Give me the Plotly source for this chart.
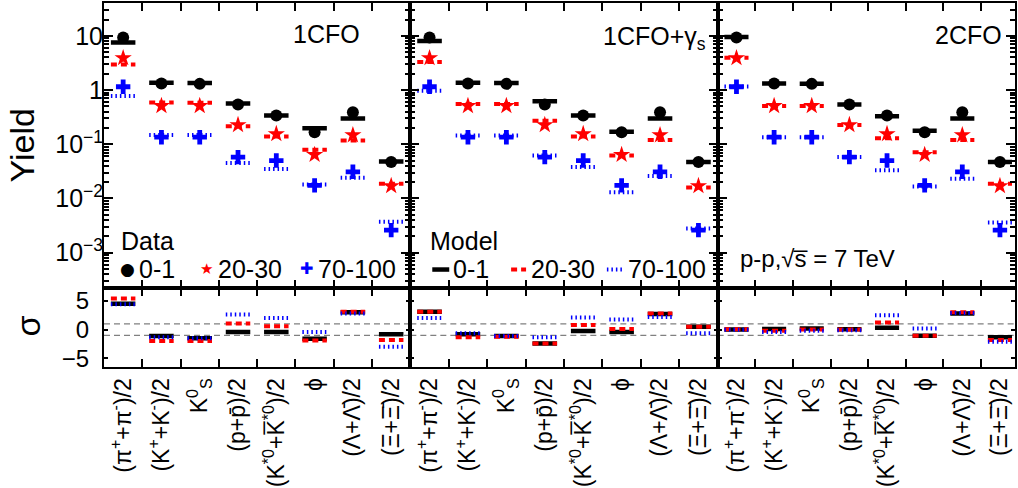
import plotly.graph_objects as go

# ---------------- data ----------------
categories = [
    "(π<sup>+</sup>+π<sup>-</sup>)/2",
    "(K<sup>+</sup>+K<sup>-</sup>)/2",
    "K<sup>0</sup><sub>S</sub>",
    "(p+p̄)/2",
    "(K<sup>*0</sup>+K̅<sup>*0</sup>)/2",
    "ϕ",
    "(Λ+Λ̄)/2",
    "(Ξ+Ξ̄)/2",
]
classes = ["0-1", "20-30", "70-100"]

yield_tickvals = [0.001, 0.01, 0.1, 1, 10]
yield_ticktext = ["10<sup>−3</sup>", "10<sup>−2</sup>", "10<sup>−1</sup>", "1", "10"]

# measured yields (same in all three panels)
data_0_1 = [9.3, 1.32, 1.30, 0.54, 0.34, 0.166, 0.39, 0.047]
data_20_30 = [3.9, 0.51, 0.51, 0.227, 0.155, 0.064, 0.148, 0.017]
data_70_100 = [1.15, 0.135, 0.135, 0.058, 0.050, 0.0174, 0.031, 0.0026]

# model yields: 1CFO
m1cfo_0_1 = [7.5, 1.37, 1.35, 0.565, 0.34, 0.197, 0.30, 0.048]
m1cfo_20_30 = [2.97, 0.59, 0.58, 0.214, 0.139, 0.079, 0.117, 0.0186]
m1cfo_70_100 = [0.78, 0.148, 0.148, 0.045, 0.035, 0.018, 0.024, 0.0037]
# model yields: 1CFO+gamma_s
m1cfog_0_1 = [8.0, 1.37, 1.35, 0.62, 0.34, 0.17, 0.30, 0.047]
m1cfog_20_30 = [3.29, 0.55, 0.55, 0.27, 0.139, 0.062, 0.12, 0.016]
m1cfog_70_100 = [0.97, 0.145, 0.145, 0.062, 0.038, 0.013, 0.026, 0.0028]
# model yields: 2CFO
m2cfo_0_1 = [9.5, 1.32, 1.30, 0.54, 0.33, 0.178, 0.30, 0.047]
m2cfo_20_30 = [3.95, 0.51, 0.51, 0.227, 0.129, 0.071, 0.12, 0.0186]
m2cfo_70_100 = [1.16, 0.135, 0.135, 0.058, 0.033, 0.0167, 0.023, 0.0036]

# deviations sigma
s1cfo_0_1 = [4.5, -1.1, -1.5, -0.4, -0.4, -1.6, 3.0, -0.8]
s1cfo_20_30 = [5.4, -2.0, -2.0, 1.07, 0.6, -1.9, 3.1, -1.8]
s1cfo_70_100 = [4.4, -1.35, -1.5, 2.6, 2.0, -0.4, 2.8, -3.0]
s1cfog_0_1 = [3.1, -0.8, -1.1, -2.4, -0.25, -0.4, 2.7, 0.5]
s1cfog_20_30 = [3.1, -1.35, -1.25, -2.4, 0.8, 0.1, 2.8, 0.5]
s1cfog_70_100 = [2.0, -0.65, -1.1, -1.35, 2.1, 1.75, 2.2, -0.65]
s2cfo_0_1 = [0.0, 0.1, 0.2, 0.05, 0.3, -1.05, 2.8, -1.35]
s2cfo_20_30 = [0.05, -0.2, 0.0, 0.0, 1.25, -1.05, 3.0, -1.8]
s2cfo_70_100 = [-0.05, -0.4, -0.2, -0.1, 2.5, 0.2, 2.9, -2.1]

panel_titles = ["1CFO", "1CFO+γ<sub>s</sub>", "2CFO"]

data_sets = [data_0_1, data_20_30, data_70_100]
model_sets = [
    [m1cfo_0_1, m1cfo_20_30, m1cfo_70_100],
    [m1cfog_0_1, m1cfog_20_30, m1cfog_70_100],
    [m2cfo_0_1, m2cfo_20_30, m2cfo_70_100],
]
sigma_sets = [
    [s1cfo_0_1, s1cfo_20_30, s1cfo_70_100],
    [s1cfog_0_1, s1cfog_20_30, s1cfog_70_100],
    [s2cfo_0_1, s2cfo_20_30, s2cfo_70_100],
]

# ---------------- styling / layout geometry ----------------
FONT = "Liberation Sans, Arial, Helvetica, sans-serif"
W, H = 1018, 488
ML, MR, MT, MB = 104, 1, 1, 121
PW = W - ML - MR
PH = H - MT - MB


def fx(x):
    return (x - ML) / PW


def fy(y):
    return (H - MB - y) / PH


xb = [104, 411, 719, 1017]
split = 288
xranges = [[0.5, 8.5], [0.5, 8.5], [0.5, 8.4]]

marker_styles = [
    dict(symbol="circle", size=12, color="black"),
    dict(symbol="star", size=13, color="red"),
    dict(symbol="cross", size=12, color="blue"),
]
line_styles = [
    dict(color="black", width=4.5, dash="solid"),
    dict(color="red", width=4, dash="6px,4px"),
    dict(color="blue", width=4, dash="1.5px,3px"),
]

cx = list(range(1, len(categories) + 1))
bounds = [c + 0.5 for c in cx[:-1]]
HALF = 0.32
minor_log = [m * 10.0 ** e for e in range(-4, 2) for m in range(2, 10)]


def seg(vals):
    xs, ys = [], []
    for c, v in zip(cx, vals):
        xs += [c - HALF, c + HALF, None]
        ys += [v, v, None]
    return xs, ys


fig = go.Figure()

for p in range(3):
    xt = "x" if p == 0 else f"x{p + 1}"
    yt = "y" if p == 0 else f"y{p + 1}"
    xs_ = f"x{p + 4}"
    ys_ = f"y{p + 4}"
    for k in range(3):
        fig.add_trace(go.Scatter(
            x=cx, y=data_sets[k], mode="markers", xaxis=xt, yaxis=yt,
            marker=dict(line=dict(width=0), **marker_styles[k]),
            name=f"Data {classes[k]}", showlegend=False))
    for k in range(3):
        xx, yy = seg(model_sets[p][k])
        fig.add_trace(go.Scatter(
            x=xx, y=yy, mode="lines", xaxis=xt, yaxis=yt,
            line=line_styles[k], name=f"Model {classes[k]}", showlegend=False))
    for k in range(3):
        xx, yy = seg(sigma_sets[p][k])
        fig.add_trace(go.Scatter(
            x=xx, y=yy, mode="lines", xaxis=xs_, yaxis=ys_,
            line=line_styles[k], showlegend=False))

layout = dict(
    width=W, height=H,
    margin=dict(l=ML, r=MR, t=MT, b=MB, pad=0),
    paper_bgcolor="white", plot_bgcolor="white",
    showlegend=False,
    font=dict(family=FONT, color="black"),
)

common = dict(showline=True, linewidth=2, linecolor="black", mirror="ticks",
              showgrid=False, zeroline=False, tickcolor="black")

for p in range(3):
    dom = [fx(xb[p]), fx(xb[p + 1])]
    n_top = "" if p == 0 else str(p + 1)
    n_bot = str(p + 4)
    layout[f"xaxis{n_top}"] = dict(
        domain=dom, anchor=f"y{n_top}", range=xranges[p],
        tickmode="array", tickvals=bounds, ticks="inside", ticklen=8, tickwidth=2,
        showticklabels=False, **common)
    layout[f"yaxis{n_top}"] = dict(
        domain=[fy(split), 1], anchor=f"x{n_top}", type="log",
        range=[-3.66, 1.606], tickmode="array",
        tickvals=yield_tickvals, ticktext=yield_ticktext,
        ticks="inside", ticklen=9, tickwidth=2,
        minor=dict(tickmode="array", tickvals=minor_log, ticks="inside", ticklen=5,
                   tickwidth=1.5, tickcolor="black", showgrid=False),
        showticklabels=(p == 0), tickfont=dict(size=25, family=FONT),
        ticklabelstandoff=-6, **common)
    layout[f"xaxis{n_bot}"] = dict(
        domain=dom, anchor=f"y{n_bot}", range=xranges[p],
        tickmode="array", tickvals=cx, ticktext=categories, ticks="",
        tickangle=-90, tickfont=dict(size=23, family=FONT),
        minor=dict(tickmode="array", tickvals=bounds, ticks="inside", ticklen=8,
                   tickwidth=2, tickcolor="black", showgrid=False),
        **common)
    layout[f"yaxis{n_bot}"] = dict(
        domain=[0, fy(split)], anchor=f"x{n_bot}", range=[-6.5, 7.15],
        tickmode="array", tickvals=[-5, 0, 5], ticktext=["−5", "0", "5"],
        ticks="inside", ticklen=4, tickwidth=2,
        showticklabels=(p == 0), tickfont=dict(size=24, family=FONT),
        ticklabelstandoff=8, **common)

fig.update_layout(**layout)

shapes = []
for p in range(3):
    for v in (1, -1):
        shapes.append(dict(type="line", xref=f"x{p + 4} domain", yref=f"y{p + 4}",
                           x0=0, x1=1, y0=v, y1=v, layer="below",
                           line=dict(color="gray", width=1.2, dash="6px,4px")))

for (x0, x1), st in zip([(433, 450), (512, 527), (608, 625)], line_styles):
    shapes.append(dict(type="line", xref="paper", yref="paper",
                       x0=fx(x0), x1=fx(x1), y0=fy(269), y1=fy(269), line=st))
fig.update_layout(shapes=shapes)

ann = []


def text(x, y, s, size=24, xanchor="left", color="black", angle=0, family=FONT):
    ann.append(dict(x=fx(x), y=fy(y), xref="paper", yref="paper", text=s,
                    showarrow=False, xanchor=xanchor, yanchor="middle",
                    textangle=angle, font=dict(size=size, color=color, family=family)))


text(22, 144, "Yield", size=34, xanchor="center", angle=-90)
text(28, 326, "σ", size=34, xanchor="center", angle=-90)

text(363, 32, panel_titles[0], size=25, xanchor="right")
text(709, 36, panel_titles[1], size=25, xanchor="right")
text(1006, 33, panel_titles[2], size=25, xanchor="right")

text(119, 240, "Data", size=25)
text(128, 268, "●", size=17, xanchor="center", family="DejaVu Sans")
text(137, 268, classes[0], size=25)
text(207, 268, "★", size=15, xanchor="center", color="red", family="DejaVu Sans")
text(216, 268, classes[1], size=25)
text(307, 268, "✚", size=16, xanchor="center", color="blue", family="DejaVu Sans")
text(316, 268, classes[2], size=25)

text(429, 240, "Model", size=25)
text(452, 268, classes[0], size=25)
text(530, 268, classes[1], size=25)
text(627, 268, classes[2], size=25)

text(739, 258, "p-p,√s̅ = 7 TeV", size=24)

fig.update_layout(annotations=ann)

fig.write_html(
    "out.html",
    config={"displayModeBar": False},
    post_script="document.body.style.margin='0';document.body.style.overflow='hidden';",
)
